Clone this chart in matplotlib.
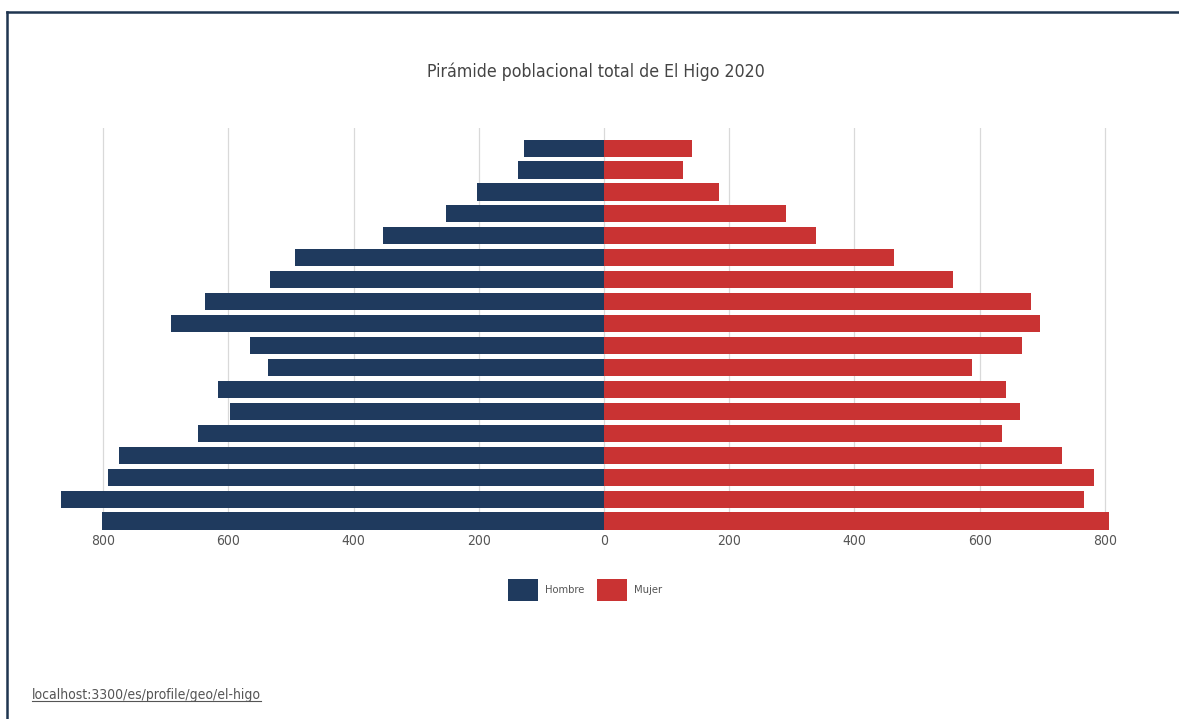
import matplotlib
matplotlib.use("Agg")
import matplotlib.pyplot as plt
from matplotlib.patches import Patch
from matplotlib.lines import Line2D

# age groups, youngest first (drawn bottom to top)
ages = ["0-4", "5-9", "10-14", "15-19", "20-24", "25-29", "30-34", "35-39",
        "40-44", "45-49", "50-54", "55-59", "60-64", "65-69", "70-74",
        "75-79", "80-84", "85+"]
hombre = [801, 867, 792, 774, 649, 597, 616, 537, 566,
          691, 638, 534, 493, 353, 253, 203, 138, 127]
mujer = [806, 767, 782, 731, 636, 664, 642, 587, 667,
         696, 682, 558, 463, 339, 291, 183, 126, 141]
ticks = [-800, -600, -400, -200, 0, 200, 400, 600, 800]

c_h = "#1f3a5e"
c_m = "#c93333"
txt = "#555555"

plt.rcParams["font.family"] = ["DejaVu Sans"]
plt.rcParams["font.stretch"] = "condensed"

fig = plt.figure(figsize=(11.79, 7.19), dpi=100)
ax = fig.add_axes([53 / 1179, 0.2631, 1102 / 1179, 0.5584])

pos = list(range(len(ages)))
ax.barh(pos, [-v for v in hombre], height=0.78, color=c_h, zorder=2)
ax.barh(pos, mujer, height=0.78, color=c_m, zorder=2)

ax.set_xlim(-880, 880)
ax.set_ylim(-0.4, 17.9)
ax.set_xticks(ticks)
ax.set_xticklabels([str(abs(t)) for t in ticks])
ax.set_yticks([])
ax.tick_params(axis="x", length=0, labelsize=10, labelcolor=txt, pad=3)
ax.grid(axis="x", color="#d9d9d9", linewidth=0.9, zorder=0)
for s in ax.spines.values():
    s.set_visible(False)

fig.text(596 / 1179, 1 - 72 / 719, "Pirámide poblacional total de El Higo 2020",
         ha="center", va="center", fontsize=12.7, color="#444444")

handles = [Patch(facecolor=c_h, label="Hombre"), Patch(facecolor=c_m, label="Mujer")]
fig.legend(handles=handles, loc="center", bbox_to_anchor=(585 / 1179, 1 - 590 / 719),
           ncol=2, frameon=False, fontsize=8, handlelength=2.7, handleheight=2.7,
           handletextpad=0.6, columnspacing=1.2, labelcolor=txt)

# footer link with underline
link = fig.text(32 / 1179, 1 - 695 / 719, "localhost:3300/es/profile/geo/el-higo",
                ha="left", va="center", fontsize=10, color="#555555")
fig.canvas.draw()
bb = link.get_window_extent().transformed(fig.transFigure.inverted())
fig.add_artist(Line2D([bb.x0, bb.x1], [bb.y0 + 0.001, bb.y0 + 0.001],
                      transform=fig.transFigure, color="#555555", linewidth=0.8))

# frame edges along the top and left
fig.add_artist(Line2D([6.5 / 1179, 1], [1 - 11.5 / 719, 1 - 11.5 / 719],
                      transform=fig.transFigure, color="#1f3550", linewidth=1.8))
fig.add_artist(Line2D([6.5 / 1179, 6.5 / 1179], [0, 1 - 11.5 / 719],
                      transform=fig.transFigure, color="#1f3550", linewidth=1.8))

fig.savefig("out.png", dpi=100, facecolor="white")
